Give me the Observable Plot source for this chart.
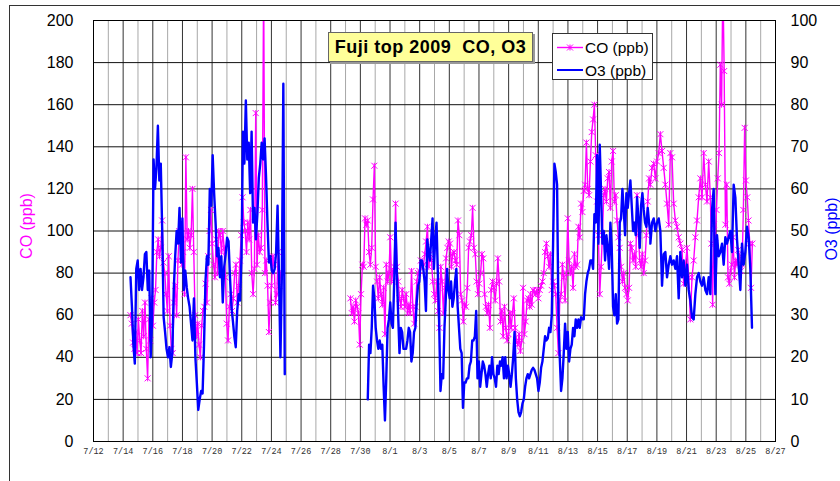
<!DOCTYPE html>
<html><head><meta charset="utf-8">
<script src="https://cdn.jsdelivr.net/npm/d3@7"></script>
<script src="https://cdn.jsdelivr.net/npm/@observablehq/plot@0.6"></script>
<style>
body{margin:0;background:#fff;}
#wrap{position:relative;width:840px;height:481px;overflow:hidden;font-family:"Liberation Sans",Arial,sans-serif;}
#outer{position:absolute;left:9px;top:5px;width:900px;height:600px;border-left:1px solid #333;border-top:1px solid #333;pointer-events:none;}
#title{position:absolute;left:328px;top:32px;width:205px;height:30px;background:#ffff99;border:1px solid #666;box-shadow:2px 2px 0 #999;box-sizing:border-box;font-weight:bold;font-size:18px;letter-spacing:0.5px;display:flex;align-items:center;justify-content:center;white-space:pre;color:#000;}
#legend{position:absolute;left:552px;top:33px;width:101px;height:47px;background:#fff;border:1px solid #333;box-sizing:border-box;}
.ytitle{position:absolute;font-size:16px;white-space:nowrap;transform:translate(-50%,-50%) rotate(-90deg);}
</style>
</head><body>
<div id="wrap"></div>
<script>
// ---- data ----
// times are "day of July 2009" (Aug 1 = 32); each series piece is evenly spaced between its start and end
const coJul14 = [60,56,47,44,52,42,58,48,42,62,50,66,44,30,58,48,68,55,66,72,90,96,88,92,105,85,80,70,62,88,55,44,42,66,74,60,86,100,96,84,90,70,135,96,100,92,98,120,90,60,50,56,46,40,55,62,64,75,66,88,100,110,94,84,78,96,80,100,98,90,100,92,78,56,48,64,70,62,68,80,84,66,74,86,98,116,104,100,90,104,96,110,80,70,82,156,84,98,90,92,110,220,80,86,74,52,66,74,88,84,66,70,90,74,80];
const coJul29 = [68,61,64,57,67,64,61,46,70,84,83,106,103,105,90,84,92,115,131,83,76,68,78,70,65,73,51,84,76,80,97,76,81,83,113,83,76,68,64,72,68,64,70,61,65,61,81,64,56,64,76,80,81,86,83,84,89,95,102,83,89,86,76,70,67,76,62,54,83,76,61,73,87,92,95,94,83,89,90,86,84,105,98,70,67,57,65,64,73,92,95,98,111,92,89,76,70,75,80,89,87,70,64,61,65,54,72,76,73,67,75,87,76,57,62,50,64,54,48,51,61,54,61,68,54,48,46,51,43,48,73,51,57,67,68,64];
const coAug10 = [70,65,72,71,70,72,68,72,74,76,80,90,94,88,83,89,72,76,74,70,54,42,67,70,84,78,67,80,106,86,80,83,73,89,83,84,102,97,113,109,119,122,142,120,117,133,147,153,160,136,114,98,70,83,98,117,120,114,125,128,111,133,138,114,117,105,97,92,83,76,80,73,70,67,73,94,92,86,89,83,117,98,86,83,89,80,86,98,114,125];
const coAug18 = [122,130,132,125,133,137,146,138,130,122,113,103,137,135,113,105,102,97,94,91,75,83,92,78,58,78,86,97,105,116,125,116,137,122,114,133,116];
const coAug22 = [94,65,103,94,110,125,137,179,160,220,176,103,122,78,75,81,84,97,78,86,84,91,88,81,84,110,149,124,116,105,94,73,94];

const o3Jul14 = [39,32,23,18.5,41,43,36,41,36,39,44.5,45,36,40.6,20,29,67,60,65,75,62,66,50,29.5,26,22,20,22.4,17.7,21,36,44,50,47,55.5,42.5,53,36,40.6,36.6,34,32,28,24,34,20,14,7.5,10,12,11.4,23,38,44,42,60,56,68,59,52,44,46,39,44,33,41.5,44.5,48.4,47.6,39,32,28.7,25,22.4,31,35,33.5,44,73.6,66,81,67,71,59,73.6,52,55.5,48,54,62.6,66,71,67,72,63,52,42.5,44,40.6,40,41,45,56,39,20,40,85,16];
const o3Jul30 = [10,23,21,27,37,34,27,24,22,24,22,23,13,5,15,27,29,33,28,27,38,52,40,30,21,27,26,22,22,22,24,27,26,19,21,26,27,33,37,38,43,43,41,38,31,48,45,43,48,53,41,48,52,40,28,12,16,15,27,34,41,36,34,38,32,34,38,41,32,27,22,21,8,14,14,15,15,18,19,24,24,25,31,15,19,13,16,19,18,16,13,16,18,15,20,16,15,13,18,16,19,18,20,15,20,15,18,16,13,16,20,26,15,10,7,6,7,9,10,13,15,16,15,16];
const o3Aug10 = [16,17,17.5,17,16,15,12,14,17.5,19,22,25,24,24.5,27,26,30,47,66,64,61,30,20,12,15,21,28,22,26,19,22,23,27,25,29,27,29,27,29.5,29,29,35,38,40,41,43,43,41,54,52,68,47,70.5,59,47,50,43,49,46,41,52,46,32,30,35,28,29,52,53,60,55,49,59,55.5,59,62,56,50,52,49,58,53,46,56,59,55,52,51,55.5,52,49];
const o3Aug18 = [47,52,53,50,52,53,50,37,44.5,45,39,42,44,42,43,41,44,34,45,39,43,37,42,36,33.5,29.5,29,35,39,40,38,37,39,36,35,39,35,55,60,35,49,44,45,47,42,48.5,47,48.5,50,45,61,58,48,42,36,47,42,45,51,48.5,41,27];

const coSpans = [[14.495,24.632],[29.33,41.423],[41.47,49.472],[49.56,53.606],[53.673,56.438]];
const coSegments = [1,2,2,2,2];
const o3Spans = [[14.495,24.901],[30.499,41.468],[41.47,49.562],[49.56,56.415]];
const o3Segments = [1,2,2,2];

const coTicks = [0,20,40,60,80,100,120,140,160,180,200];
const o3Ticks = [0,10,20,30,40,50,60,70,80,90,100];
const xTickLabels = ["7/12","7/14","7/16","7/18","7/20","7/22","7/24","7/26","7/28","7/30","8/1","8/3","8/5","8/7","8/9","8/11","8/13","8/15","8/17","8/19","8/21","8/23","8/25","8/27"];

// ---- build tables ----
const toDate = jd => new Date(Date.UTC(2009, 6, 1) + (jd - 1) * 864e5);
function rows(pieces, spans, segs, name) {
  const out = [];
  pieces.forEach((vals, k) => {
    const [s, e] = spans[k];
    vals.forEach((v, i) => out.push({t: toDate(s + i * (e - s) / (vals.length - 1)), v, key: name + segs[k]}));
  });
  return out;
}
const coRows = rows([coJul14, coJul29, coAug10, coAug18, coAug22], coSpans, coSegments, "co");
const o3Rows = rows([o3Jul14, o3Jul30, o3Aug10, o3Aug18], o3Spans, o3Segments, "o3");

const parseMD = s => { const [m, d] = s.split("/").map(Number); return new Date(Date.UTC(2009, m - 1, d)); };
const x0 = parseMD(xTickLabels[0]), x1 = parseMD(xTickLabels[xTickLabels.length - 1]);
const allDays = d3.utcDay.range(x0, d3.utcDay.offset(x1, 1));
const evenDays = allDays.filter(d => Math.round((d - x0) / 864e5) % 2 === 0);
const oddDays = allDays.filter(d => Math.round((d - x0) / 864e5) % 2 === 1);

const asterisk = {
  draw(ctx, size) {
    const r = Math.sqrt(size / Math.PI);
    ctx.moveTo(-r, -r); ctx.lineTo(r, r);
    ctx.moveTo(-r, r); ctx.lineTo(r, -r);
    ctx.moveTo(0, -r); ctx.lineTo(0, r);
  }
};

const chart = Plot.plot({
  width: 840, height: 481,
  marginLeft: 93, marginRight: 65, marginTop: 20, marginBottom: 40,
  x: {type: "utc", domain: [x0, x1], axis: null},
  y: {domain: [0, 200], axis: null},
  style: {fontFamily: "'Liberation Sans', Arial, sans-serif", background: "white", overflow: "visible"},
  marks: [
    Plot.ruleX(oddDays, {x: d => d, stroke: "#a8a8a8", strokeWidth: 1}),
    Plot.ruleX(evenDays, {x: d => d, stroke: "#333", strokeWidth: 1}),
    Plot.ruleY(coTicks, {y: d => d, stroke: "#111", strokeWidth: 1}),
    Plot.line(coRows, {x: "t", y: "v", z: "key", stroke: "#ff00ff", strokeWidth: 1.4, clip: true}),
    Plot.dot(coRows, {x: "t", y: "v", symbol: asterisk, r: 3, fill: "none", stroke: "#ff00ff", strokeWidth: 1, clip: true}),
    Plot.line(o3Rows, {x: "t", y: d => d.v * 2, z: "key", stroke: "#0000ff", strokeWidth: 2.4, clip: true}),
    Plot.frame({stroke: "#000"}),
    Plot.text(coTicks, {y: d => d, text: d => String(d), frameAnchor: "left", dx: -20, textAnchor: "end", fontSize: 16, fill: "#000"}),
    Plot.text(o3Ticks, {y: d => d * 2, text: d => String(d), frameAnchor: "right", dx: 15, textAnchor: "start", fontSize: 16, fill: "#000"}),
    Plot.text(xTickLabels, {x: parseMD, text: d => d, frameAnchor: "bottom", dy: 12, fontSize: 8.5, fontFamily: "'Liberation Mono', monospace", fill: "#333"})
  ]
});

const wrap = document.getElementById("wrap");
wrap.appendChild(chart);
wrap.insertAdjacentHTML("beforeend", `
<div id="outer"></div>
<div class="ytitle" style="left:27px;top:226px;color:#ff00ff;">CO (ppb)</div>
<div class="ytitle" style="left:832px;top:229px;color:#0000ff;">O3 (ppb)</div>
<div id="title">Fuji top 2009  CO, O3</div>
<div id="legend">
<svg width="101" height="47" style="position:absolute;left:-1px;top:-1px;font-family:'Liberation Sans',Arial,sans-serif;">
<line x1="5" x2="31" y1="14.5" y2="14.5" stroke="#ff00ff" stroke-width="1.4"/>
<path d="M15,11.5L21,17.5M15,17.5L21,11.5M18,11.5L18,17.5" stroke="#ff00ff" stroke-width="1" fill="none"/>
<text x="33" y="14.5" dy="0.36em" font-size="15.5" fill="#000">CO (ppb)</text>
<line x1="5" x2="31" y1="37" y2="37" stroke="#0000ff" stroke-width="2"/>
<text x="33" y="37" dy="0.36em" font-size="15.5" fill="#000">O3 (ppb)</text>
</svg>
</div>`);
</script>
</body></html>
